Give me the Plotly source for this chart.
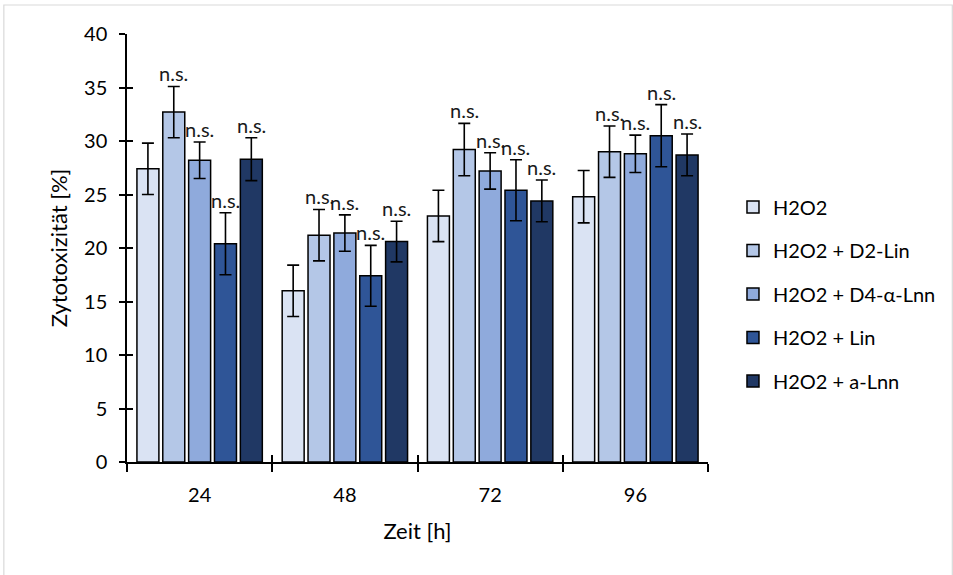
import plotly.graph_objects as go

# Time points (h) and treatment groups
zeit = ["24", "48", "72", "96"]
gruppen = ["H2O2", "H2O2 + D2-Lin", "H2O2 + D4-\u03b1-Lnn", "H2O2 + Lin", "H2O2 + a-Lnn"]

# Mean cytotoxicity [%] per group and time point
h2o2 = [27.4, 16.0, 23.0, 24.8]
h2o2_d2_lin = [32.7, 21.2, 29.2, 29.0]
h2o2_d4_alnn = [28.2, 21.4, 27.2, 28.8]
h2o2_lin = [20.4, 17.4, 25.4, 30.5]
h2o2_alnn = [28.3, 20.6, 24.4, 28.7]

# Standard deviations
sd_h2o2 = [2.4, 2.4, 2.4, 2.45]
sd_h2o2_d2_lin = [2.4, 2.4, 2.45, 2.4]
sd_h2o2_d4_alnn = [1.7, 1.7, 1.7, 1.75]
sd_h2o2_lin = [2.9, 2.85, 2.85, 2.9]
sd_h2o2_alnn = [2.0, 1.9, 1.95, 1.95]

# Significance labels (first group is the reference)
signif = ["", "n.s.", "n.s.", "n.s.", "n.s."]

werte = [h2o2, h2o2_d2_lin, h2o2_d4_alnn, h2o2_lin, h2o2_alnn]
fehler = [sd_h2o2, sd_h2o2_d2_lin, sd_h2o2_d4_alnn, sd_h2o2_lin, sd_h2o2_alnn]
farben = ["#DAE3F3", "#B4C7E7", "#8FAADC", "#2F5597", "#203864"]

BARGAP = 0.11
BARGROUPGAP = 0.15
FONT = "Lato, Open Sans, sans-serif"

W, H = 953, 575
ML, MR, MT, MB = 127, 241, 34, 113

fig = go.Figure()
for i, (name, y, e, c) in enumerate(zip(gruppen, werte, fehler, farben)):
    fig.add_trace(go.Bar(
        x=zeit, y=y, name=name,
        marker=dict(color=c, line=dict(color="black", width=1.5)),
        error_y=dict(type="data", array=e, visible=True, color="black",
                     thickness=1.6, width=6),
        legendgroup=f"g{i}",
    ))

# empty trace so the overlaid tick axes get drawn
fig.add_trace(go.Scatter(x=[None], y=[None], xaxis="x2", yaxis="y2",
                         showlegend=False, hoverinfo="skip"))

# "n.s." labels above the error bars
n = len(gruppen)
slot = (1 - BARGAP) / n
for i in range(n):
    if not signif[i]:
        continue
    for k in range(len(zeit)):
        xc = k - (1 - BARGAP) / 2 + slot * (i + 0.5)
        fig.add_annotation(
            x=xc, y=werte[i][k] + fehler[i][k], xref="x", yref="y",
            text=signif[i], showarrow=False, yanchor="bottom", yshift=-1,
            font=dict(family=FONT, size=20, color="#1a1a1a"),
        )

# Light frame around the whole chart area
pw = W - ML - MR
ph = H - MT - MB
fig.add_shape(
    type="rect", xref="paper", yref="paper",
    x0=(3 - ML) / pw, x1=(W + 5 - ML) / pw,
    y0=1 - (H + 5 - MT) / ph, y1=1 - (5 - MT) / ph,
    line=dict(color="#D9D9D9", width=1.2), fillcolor="rgba(0,0,0,0)",
    layer="below",
)

fig.update_layout(
    width=W, height=H,
    margin=dict(l=ML, r=MR, t=MT, b=MB),
    paper_bgcolor="white", plot_bgcolor="white",
    barmode="group", bargap=BARGAP, bargroupgap=BARGROUPGAP,
    showlegend=True,
    legend=dict(x=1.043, y=1 - (294 - MT) / ph, xanchor="left", yanchor="middle",
                font=dict(family=FONT, size=20, color="black"),
                tracegroupgap=14.5, bgcolor="rgba(0,0,0,0)"),
    xaxis=dict(
        type="category", range=[-0.5, 3.5], tickson="boundaries",
        ticks="outside", ticklen=8, tickwidth=1.5, tickcolor="black",
        showline=True, linecolor="black", linewidth=1.5, showgrid=False,
        tickfont=dict(family=FONT, size=20, color="black"),
        ticklabelstandoff=14,
        title=dict(text="Zeit [h]", font=dict(family=FONT, size=22, color="black"),
                   standoff=19),
    ),
    xaxis2=dict(
        overlaying="x", anchor="y", range=[-0.5, 3.5],
        tickvals=[-0.5, 0.5, 1.5, 2.5, 3.5], ticks="inside", ticklen=7,
        tickwidth=1.5, tickcolor="black", showticklabels=False,
        showline=False, showgrid=False, zeroline=False,
    ),
    yaxis=dict(
        range=[0, 40], dtick=5, ticks="outside", ticklen=6, tickwidth=1.5,
        tickcolor="black", showline=True, linecolor="black", linewidth=1.5,
        showgrid=False, zeroline=False,
        tickfont=dict(family=FONT, size=20, color="black"),
        ticklabelstandoff=8,
        title=dict(text="Zytotoxizität [%]", font=dict(family=FONT, size=22, color="black"),
                   standoff=10),
    ),
    yaxis2=dict(
        overlaying="y", anchor="x", side="left", range=[0, 40], dtick=5,
        ticks="inside", ticklen=6, tickwidth=1.5, tickcolor="black",
        showticklabels=False, showline=False, showgrid=False, zeroline=False,
    ),
)

fig.write_html("out.html")
